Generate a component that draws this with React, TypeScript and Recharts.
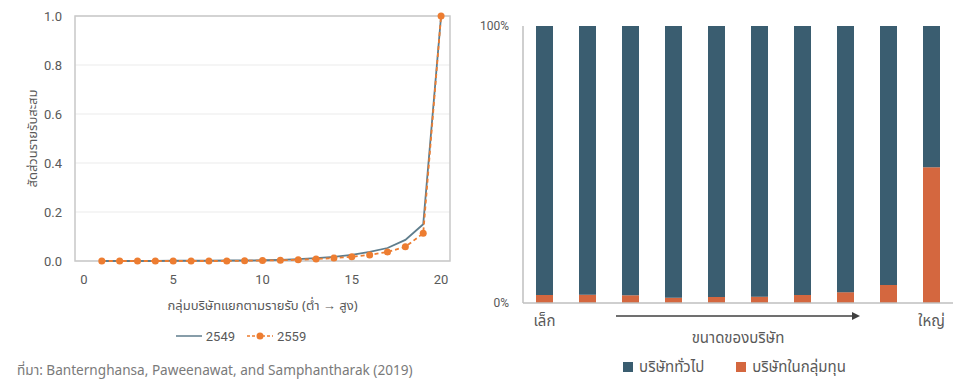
import {
  LineChart,
  Line,
  BarChart,
  Bar,
  XAxis,
  YAxis,
  CartesianGrid,
  Legend,
  ReferenceArea,
} from "recharts";

const groups = [1, 2, 3, 4, 5, 6, 7, 8, 9, 10, 11, 12, 13, 14, 15, 16, 17, 18, 19, 20];
const share2549 = [0, 0, 0, 0, 0.001, 0.001, 0.001, 0.002, 0.002, 0.003, 0.005, 0.008, 0.012, 0.017, 0.025, 0.037, 0.053, 0.086, 0.15, 1.0];
const share2559 = [0, 0, 0, 0, 0, 0, 0, 0, 0.001, 0.002, 0.003, 0.005, 0.008, 0.012, 0.017, 0.025, 0.037, 0.058, 0.113, 1.0];
const xTicks = [0, 5, 10, 15, 20];
const yTicks = [0, 0.2, 0.4, 0.6, 0.8, 1.0];

const sizeLabels = ["เล็ก", "", "", "", "", "", "", "", "", "ใหญ่"];
const groupFirms = [2.9, 3.0, 2.8, 1.9, 2.2, 2.3, 2.9, 3.9, 6.5, 49];
const generalFirms = [97.1, 97.0, 97.2, 98.1, 97.8, 97.7, 97.1, 96.1, 93.5, 51];

const lineData = groups.map((g, i) => ({ g, a: share2549[i], b: share2559[i] }));
const barData = sizeLabels.map((s, i) => ({
  idx: i,
  general: generalFirms[i],
  group: groupFirms[i],
}));

const FONT = "'Noto Sans Thai', 'Open Sans', 'Noto Sans', sans-serif";
const NUM = "'Roboto', 'Noto Sans', sans-serif";
const GRAY = "#595959";
const BLUE_LINE = "#5f7d8c";
const ORANGE = "#ed7d31";
const BAR_BLUE = "#3a5d70";
const BAR_ORANGE = "#d4673f";

function LineLegend() {
  return (
    <div style={{ display: "flex", justifyContent: "center", alignItems: "center", fontFamily: NUM, fontSize: 13, color: GRAY, height: 20, paddingLeft: 2 }}>
      <svg width={27} height={10}>
        <line x1={0} y1={5} x2={26} y2={5} stroke={BLUE_LINE} strokeWidth={1.5} />
      </svg>
      <span style={{ marginLeft: 3, marginRight: 12 }}>2549</span>
      <svg width={27} height={10}>
        <line x1={0} y1={5} x2={26} y2={5} stroke={ORANGE} strokeWidth={1.5} strokeDasharray="3 2" />
        <circle cx={13} cy={5} r={3.5} fill={ORANGE} />
      </svg>
      <span style={{ marginLeft: 3 }}>2559</span>
    </div>
  );
}

function BarLegend() {
  const item = (color: string, text: string, ml: number) => (
    <span style={{ display: "flex", alignItems: "center", marginLeft: ml }}>
      <span style={{ width: 10, height: 10, background: color, display: "inline-block", marginRight: 6 }} />
      {text}
    </span>
  );
  return (
    <div style={{ display: "flex", justifyContent: "center", alignItems: "center", fontFamily: FONT, fontSize: 15, color: GRAY, height: 20, paddingLeft: 36 }}>
      {item(BAR_BLUE, "บริษัททั่วไป", 0)}
      {item(BAR_ORANGE, "บริษัทในกลุ่มทุน", 32)}
    </div>
  );
}

function SizeAxisLabel(props: any) {
  const vb = props.viewBox || {};
  const x0 = vb.x ?? 0;
  const y0 = vb.y ?? 0;
  const ax1 = x0 + 93;
  const ax2 = x0 + 337;
  const ay = y0 + 13;
  return (
    <g>
      <line x1={ax1} y1={ay} x2={ax2 - 6} y2={ay} stroke="#404040" strokeWidth={1.5} />
      <polygon points={`${ax2},${ay} ${ax2 - 8},${ay - 4} ${ax2 - 8},${ay + 4}`} fill="#404040" />
      <text x={x0 + 215} y={y0 + 40} textAnchor="middle" fontFamily={FONT} fontSize={15} fill={GRAY}>
        ขนาดของบริษัท
      </text>
    </g>
  );
}

export default function App() {
  return (
    <div style={{ position: "absolute", left: 0, top: 0, width: 960, height: 381, background: "#fff", overflow: "hidden" }}>
      <div style={{ position: "absolute", left: 0, top: 0 }}>
        <LineChart width={470} height={350} data={lineData} margin={{ top: 16, right: 20, left: 30, bottom: 4 }}>
          <CartesianGrid horizontal vertical={false} stroke="#ebebeb" />
          <ReferenceArea x1={-0.5} x2={20.5} y1={0} y2={1} fill="none" stroke="#c8c8c8" strokeWidth={1.5} ifOverflow="extendDomain" />
          <XAxis
            dataKey="g"
            type="number"
            domain={[-0.5, 20.5]}
            ticks={xTicks}
            axisLine={false}
            tickLine={false}
            tickMargin={8}
            height={65}
            tick={{ fontSize: 13, fill: GRAY, fontFamily: NUM }}
            label={{ value: "กลุ่มบริษัทแยกตามรายรับ (ต่ำ → สูง)", position: "insideBottom", offset: 16, fontSize: 13, fill: GRAY, fontFamily: FONT }}
          />
          <YAxis
            type="number"
            domain={[0, 1]}
            ticks={yTicks}
            tickFormatter={(v: number) => v.toFixed(1)}
            axisLine={false}
            tickLine={false}
            tickMargin={7}
            width={45}
            tick={{ fontSize: 13, fill: GRAY, fontFamily: NUM }}
            label={{ value: "สัดส่วนรายรับสะสม", angle: -90, position: "insideLeft", offset: 2, fontSize: 13, fill: GRAY, fontFamily: FONT, style: { textAnchor: "middle" } }}
          />
          <Line dataKey="a" stroke={BLUE_LINE} strokeWidth={1.8} dot={false} isAnimationActive={false} />
          <Line dataKey="b" stroke={ORANGE} strokeWidth={1.8} strokeDasharray="4 3" dot={{ r: 3.5, fill: ORANGE, stroke: ORANGE, strokeWidth: 0 }} isAnimationActive={false} />
          <Legend verticalAlign="bottom" content={() => <LineLegend />} />
        </LineChart>
      </div>
      <div style={{ position: "absolute", left: 17, top: 361, fontFamily: FONT, fontSize: 13.6, color: "#7a7a7a", whiteSpace: "nowrap" }}>
        ที่มา: Banternghansa, Paweenawat, and Samphantharak (2019)
      </div>
      <div style={{ position: "absolute", left: 480, top: 0 }}>
        <BarChart width={480} height={381} data={barData} margin={{ top: 26, right: 7, left: 0, bottom: 4 }} barSize={17}>
          <XAxis
            dataKey="idx"
            type="category"
            interval={0}
            tickFormatter={(_v: any, i: number) => sizeLabels[i]}
            axisLine={{ stroke: "#bfbfbf", strokeWidth: 1.5 }}
            tickLine={false}
            tickMargin={6}
            height={54}
            tick={{ fontSize: 15, fill: GRAY, fontFamily: FONT }}
            label={<SizeAxisLabel />}
          />
          <YAxis
            type="number"
            domain={[0, 100]}
            ticks={[0, 100]}
            tickFormatter={(v: number) => `${v}%`}
            axisLine={{ stroke: "#bfbfbf", strokeWidth: 1.5 }}
            tickLine={false}
            tickMargin={8}
            width={43}
            tick={{ fontSize: 12, fill: GRAY, fontFamily: NUM }}
          />
          <Bar dataKey="group" stackId="s" fill={BAR_ORANGE} isAnimationActive={false} />
          <Bar dataKey="general" stackId="s" fill={BAR_BLUE} isAnimationActive={false} />
          <Legend verticalAlign="bottom" content={() => <BarLegend />} />
        </BarChart>
      </div>
    </div>
  );
}
